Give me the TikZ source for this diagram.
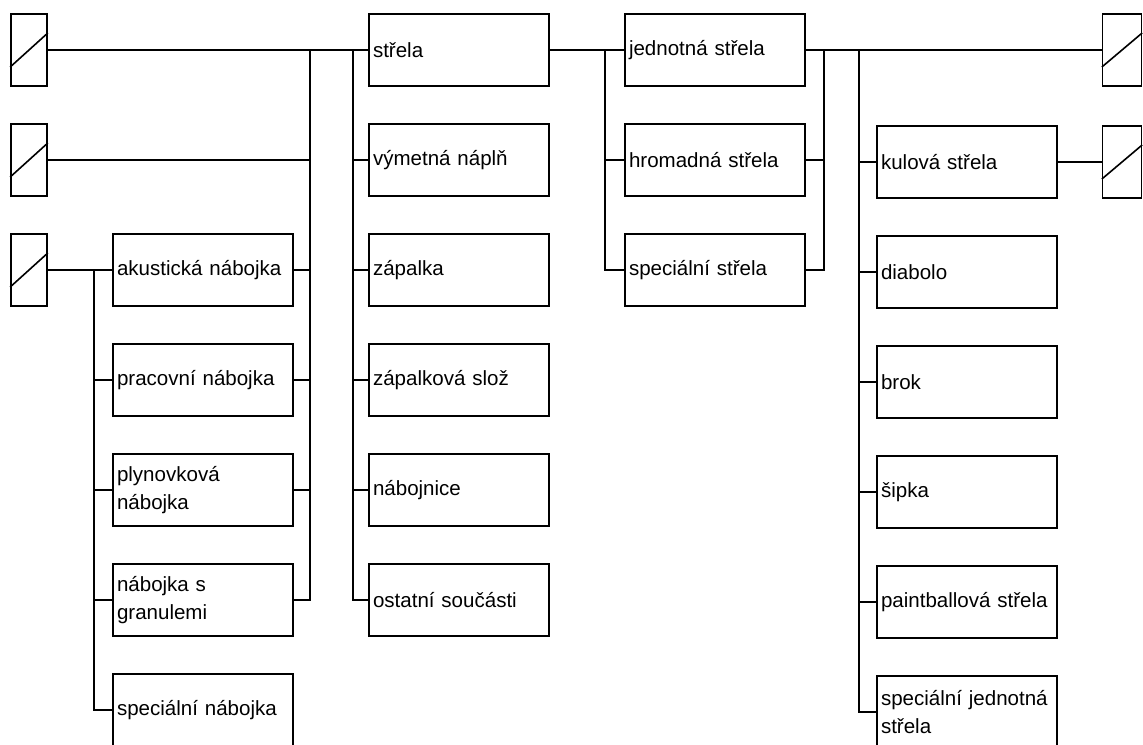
\documentclass[tikz,border=0pt]{standalone}
\usepackage{fontspec}
\setmainfont{Liberation Sans}
\usetikzlibrary{positioning,calc}

\begin{document}
\begin{tikzpicture}[x=0.75pt,y=-0.75pt,line width=1.2pt,
  box/.style={rectangle, draw, minimum height=54pt, text width=129pt, inner xsep=3pt, inner ysep=0pt, align=left, font=\fontsize{15.4}{21}\selectfont},
  cut/.style={rectangle, draw, minimum width=27pt, minimum height=54pt, inner sep=0pt}]
\useasboundingbox (0,0) rectangle (1143,744);
\node[cut] (l1) at (29,50) {};
\node[cut] (l2) at (29,160) {};
\node[cut] (l3) at (29,270) {};
\node[cut, minimum width=29pt] (r1) at (1122,50) {};
\node[cut, minimum width=29pt] (r2) at (1122,162) {};
\foreach \n in {l1,l2,l3,r1,r2}
  \draw ([yshift=-12.75pt]\n.west) -- ([yshift=12.75pt]\n.east);

\node[box] (akus) at (203,270) {akustická nábojka};
\node[box] (prac) at (203,380) {pracovní nábojka};
\node[box] (plyn) at (203,490) {plynovková\\nábojka};
\node[box] (gran) at (203,600) {nábojka s\\granulemi};
\node[box] (specn) at (203,710) {speciální nábojka};

\node[box] (strela) at (459,50) {střela};
\node[box] (vymet) at (459,160) {výmetná náplň};
\node[box] (zapalka) at (459,270) {zápalka};
\node[box] (zapsloz) at (459,380) {zápalková slož};
\node[box] (nabojnice) at (459,490) {nábojnice};
\node[box] (ostatni) at (459,600) {ostatní součásti};

\node[box] (jednotna) at (715,50) {jednotná střela};
\node[box] (hromadna) at (715,160) {hromadná střela};
\node[box] (specs) at (715,270) {speciální střela};

\node[box] (kulova) at (967,162) {kulová střela};
\node[box] (diabolo) at (967,272) {diabolo};
\node[box] (brok) at (967,382) {brok};
\node[box] (sipka) at (967,492) {šipka};
\node[box] (paint) at (967,602) {paintballová střela};
\node[box] (specj) at (967,712) {speciální jednotná\\střela};

\coordinate (b1) at (94,270);
\coordinate (b2) at (310,50);
\coordinate (b3) at (353,50);
\coordinate (b4) at (605,50);
\coordinate (b5) at (824,50);
\coordinate (b6) at (859,50);

\draw (l1.east) -- (strela.west);
\draw (l2.east) -- (l2.east -| b2);
\draw (l3.east) -- (akus.west);
\draw (specn.west) -| (b1);
\foreach \n in {prac,plyn,gran}
  \draw (\n.west) -- (\n.west -| b1);
\draw (gran.east) -| (b2);
\foreach \n in {akus,prac,plyn}
  \draw (\n.east) -- (\n.east -| b2);
\draw (ostatni.west) -| (b3);
\foreach \n in {vymet,zapalka,zapsloz,nabojnice}
  \draw (\n.west) -- (\n.west -| b3);

\draw (strela) -- (jednotna);
\draw (specs.west) -| (b4);
\draw (hromadna.west) -- (hromadna.west -| b4);
\draw (specs.east) -| (b5);
\draw (hromadna.east) -- (hromadna.east -| b5);

\draw (jednotna) -- (r1);
\draw (specj.west) -| (b6);
\foreach \n in {kulova,diabolo,brok,sipka,paint}
  \draw (\n.west) -- (\n.west -| b6);
\draw (kulova) -- (r2);
\end{tikzpicture}
\end{document}
